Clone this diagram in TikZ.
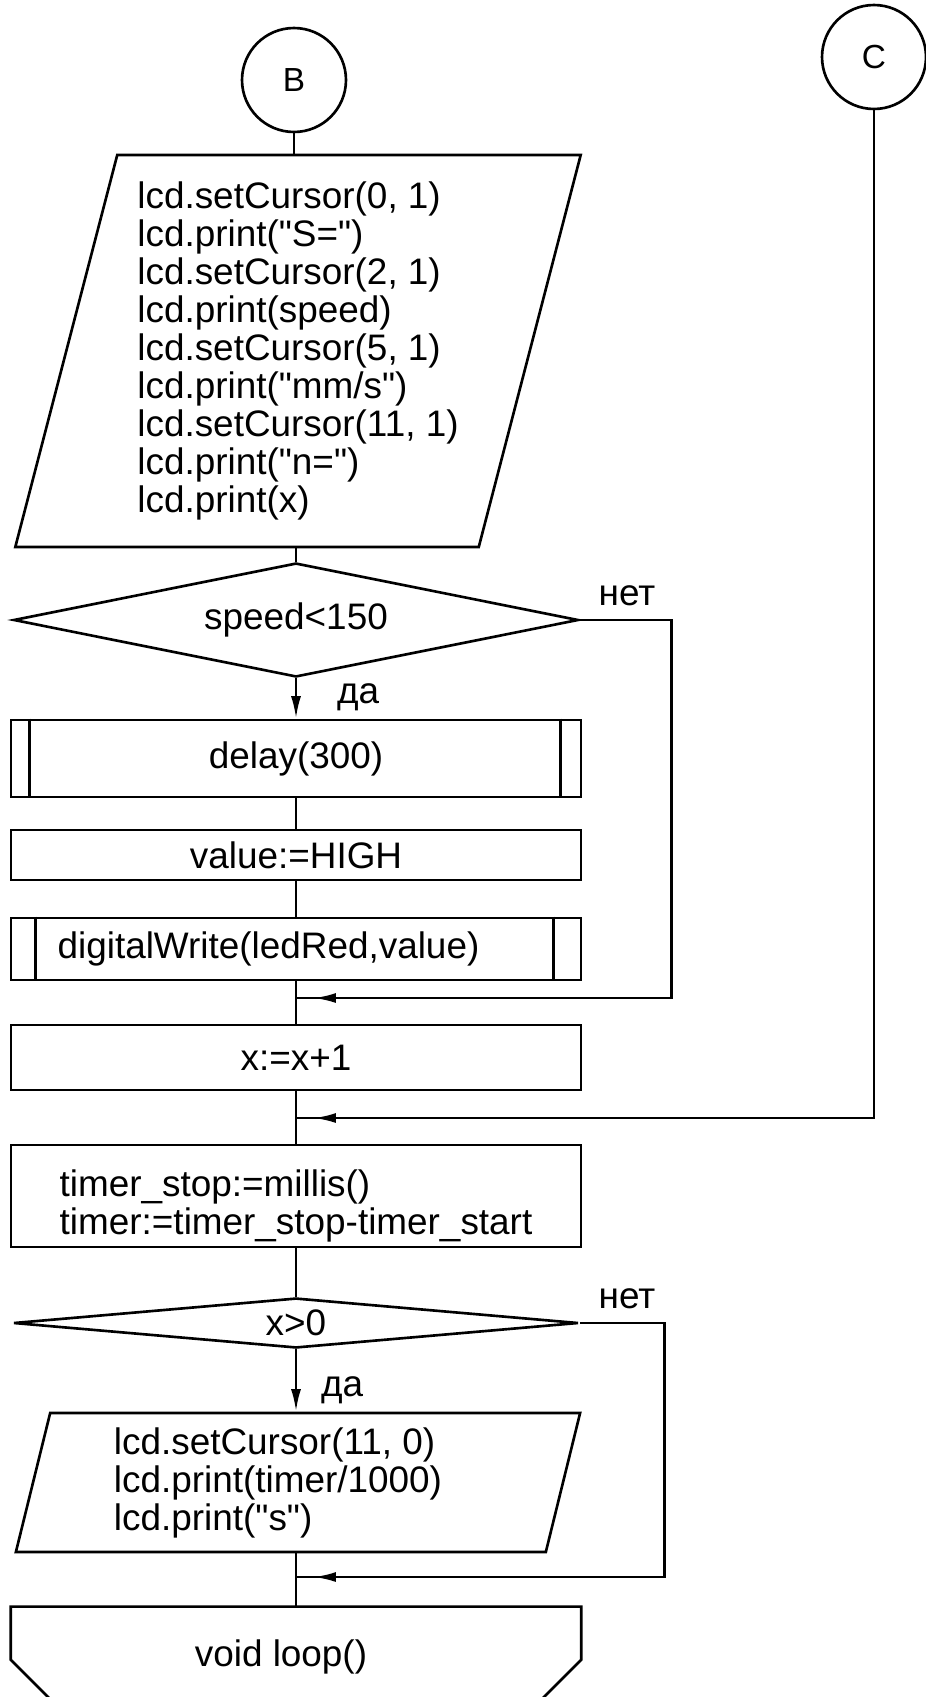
\documentclass[tikz,border=0pt]{standalone}
\usepackage{fontspec}
\setmainfont{Liberation Sans}[Ligatures=TeXOff]
\usetikzlibrary{shapes.geometric,arrows.meta,decorations.markings}

\newcommand{\dq}{\char34\relax}

\tikzset{
  every node/.style={font=\fontsize{21}{21.6}\selectfont},
  flow/.style={line width=1.5pt},
  arr/.style={flow, -{Latex[length=0.45cm,width=0.2cm]}},
  merge/.style={flow, postaction={decorate},
    decoration={markings, mark=at position -0.35cm with {\arrow{Latex[length=0.45cm,width=0.2cm]}}}},
  block/.style={draw, flow, rectangle, minimum width=11.4cm, inner sep=0pt},
  io/.style={draw, flow, trapezium, trapezium left angle=75, trapezium right angle=105,
    trapezium stretches=true, minimum width=11.32cm, align=left, inner sep=0pt},
  decision/.style={draw, flow, diamond, aspect=5, minimum width=11.3cm, inner sep=0pt},
  conn/.style={draw, flow, circle, minimum size=2.08cm, inner sep=0pt, font=\fontsize{19}{22}\selectfont}
}

\begin{document}
\begin{tikzpicture}[x=0.02cm, y=-0.02cm]
  \useasboundingbox (0,0) rectangle (926,1697);
  \clip (0,0) rectangle (926,1697);

  \node[conn] (B) at (294,80) {B};
  \node[conn] (C) at (874,57) {C};

  \node[io, minimum height=7.84cm] (show) at (298,351) {lcd.setCursor(0, 1)\\ lcd.print(\dq S=\dq)\\
    lcd.setCursor(2, 1)\\ lcd.print(speed)\\ lcd.setCursor(5, 1)\\ lcd.print(\dq mm/s\dq)\\
    lcd.setCursor(11, 1)\\ lcd.print(\dq n=\dq)\\ lcd.print(x)};
  \node[decision, minimum height=2.28cm] (speed) at (296,620) {speed<150};
  \node[block, minimum height=1.54cm] (delay) at (296,758.5) {delay(300)};
  \node[block, minimum height=1.0cm] (value) at (296,855) {value:=HIGH};
  \node[block, minimum height=1.24cm] (write) at (296,949) {digitalWrite(ledRed,value)\hspace*{1.1cm}};
  \node[block, minimum height=1.3cm] (inc) at (296,1057.5) {x:=x+1};
  \node[block, minimum height=2.04cm, align=left] (timer) at (296,1196)
    {\rule{0pt}{26pt}timer\_stop:=millis()\\ timer:=timer\_stop-timer\_start};
  \node[decision, minimum height=1.0cm] (check) at (296,1323) {x>0};
  \node[io, minimum height=2.78cm, trapezium left angle=77, trapezium right angle=103] (result) at (298,1482.5)
    {lcd.setCursor(11, 0)\\ lcd.print(timer/1000)\hspace*{0.8cm}\null\\ lcd.print(\dq s\dq)};
  \node[minimum width=11.4cm, minimum height=2cm, inner sep=0pt] (loopend) at (296,1657)
    {void loop()\hspace*{0.6cm}};

  % side bars of the subroutine blocks
  \draw[flow] ([xshift=0.4cm]delay.north west) -- ([xshift=0.4cm]delay.south west);
  \draw[flow] ([xshift=-0.44cm]delay.north east) -- ([xshift=-0.44cm]delay.south east);
  \draw[flow] ([xshift=0.52cm]write.north west) -- ([xshift=0.52cm]write.south west);
  \draw[flow] ([xshift=-0.58cm]write.north east) -- ([xshift=-0.58cm]write.south east);

  % end of loop
  \draw[flow] (loopend.north west) ++(60,113) -- ++(-60,-60) |- (loopend.north east)
    -- ++(0,53) -- ++(-60,60);

  \coordinate (m1) at (296,998);
  \coordinate (m2) at (296,1118);
  \coordinate (m3) at (296,1577);

  \draw[flow] (B.south) -- (B.south |- show.north);
  \draw[flow] (speed.north |- show.south) -- (speed.north);
  \draw[arr] (speed.south) -- (delay.north);
  \draw[flow] (delay) -- (value);
  \draw[flow] (value) -- (write);
  \draw[flow] (write) -- (inc);
  \draw[flow] (inc) -- (timer);
  \draw[flow] (timer) -- (check);
  \draw[arr] (check.south) -- (check.south |- result.north);
  \draw[flow] (check.south |- result.south) -- (loopend.north);

  \draw[merge] (speed.east) -- ++(92,0) |- (m1);
  \draw[merge] (C.south) |- (m2);
  \draw[merge] (check.east) -- ++(85,0) |- (m3);

  \node (no1) at (627,596) {нет};
  \node (no2) at (627,1299) {нет};
  \node[anchor=west] (yes1) at (331,697) {да};
  \node[anchor=west] (yes2) at (315,1390) {да};
\end{tikzpicture}
\end{document}
